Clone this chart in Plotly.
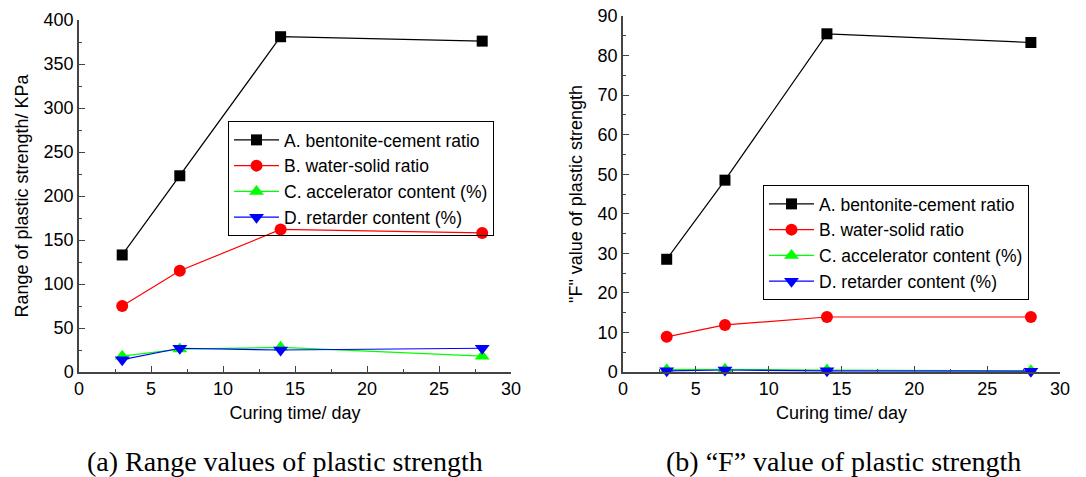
import plotly.graph_objects as go

days = [3, 7, 14, 28]
names = ["A. bentonite-cement ratio", "B. water-solid ratio",
         "C. accelerator content (%)", "D. retarder content (%)"]
range_A = [133, 223, 381, 376]
range_B = [75, 115, 162, 158]
range_C = [18, 26, 28, 18]
range_D = [14, 27, 25, 27]
f_A = [28.5, 48.5, 85.5, 83.3]
f_B = [8.9, 11.9, 13.9, 13.9]
f_C = [0.6, 0.7, 0.5, 0.3]
f_D = [0.3, 0.5, 0.3, 0.2]
x_ticks = [0, 5, 10, 15, 20, 25, 30]
caption_a = "(a) Range values of plastic strength"
caption_b = "(b) \u201cF\u201d value of plastic strength"

colors = ["#000000", "#ff0000", "#00ff00", "#0000ff"]
symbols = ["square", "circle", "triangle-up", "triangle-down"]
msizes = [11, 12, 13, 13]

W, H = 1086, 477
def fx(p): return p / W
def fy(p): return 1 - p / H

fig = go.Figure()
left = [range_A, range_B, range_C, range_D]
right = [f_A, f_B, f_C, f_D]
for i in range(4):
    fig.add_trace(go.Scatter(x=days, y=left[i], name=names[i], mode="lines+markers",
                             line=dict(color=colors[i], width=1.2),
                             marker=dict(symbol=symbols[i], size=msizes[i], color=colors[i]),
                             cliponaxis=False, xaxis="x", yaxis="y", legend="legend"))
for i in range(4):
    fig.add_trace(go.Scatter(x=days, y=right[i], name=names[i], mode="lines+markers",
                             line=dict(color=colors[i], width=1.2),
                             marker=dict(symbol=symbols[i], size=msizes[i], color=colors[i]),
                             cliponaxis=False, xaxis="x2", yaxis="y2", legend="legend2"))

font = dict(family="Liberation Sans, Arial, sans-serif", size=18, color="#000")
lfont = dict(family="Liberation Sans, Arial, sans-serif", size=17.5, color="#000")
axcommon = dict(showgrid=False, zeroline=False, showline=True, linecolor="#444", linewidth=1.5,
                ticks="inside", ticklen=6, tickcolor="#444", tickwidth=1.2,
                tickfont=font, mirror=False, automargin=False)

fig.update_layout(
    width=W, height=H, margin=dict(l=0, r=0, t=0, b=0),
    paper_bgcolor="white", plot_bgcolor="white", font=font,
    xaxis=dict(domain=[fx(79), fx(511)], range=[0, 30], tickvals=x_ticks,
               minor=dict(dtick=2.5, ticklen=3, ticks="inside", tickcolor="#444"),
               title=dict(text="Curing time/ day", font=font, standoff=8),
               anchor="y", **axcommon),
    yaxis=dict(domain=[fy(372), fy(20)], range=[0, 400], dtick=50,
               minor=dict(dtick=25, ticklen=3, ticks="inside", tickcolor="#444"),
               title=dict(text="Range of plastic strength/ KPa", font=font, standoff=10),
               anchor="x", **axcommon),
    xaxis2=dict(domain=[fx(623), fx(1060)], range=[0, 30], tickvals=x_ticks,
                minor=dict(dtick=2.5, ticklen=3, ticks="inside", tickcolor="#444"),
                title=dict(text="Curing time/ day", font=font, standoff=8),
                anchor="y2", **axcommon),
    yaxis2=dict(domain=[fy(372), fy(16)], range=[0, 90], dtick=10,
                minor=dict(dtick=5, ticklen=3, ticks="inside", tickcolor="#444"),
                title=dict(text="\"F\" value of plastic strength", font=font, standoff=10),
                anchor="x2", **axcommon),
    legend=dict(x=fx(228), y=fy(121), xanchor="left", yanchor="top",
                bordercolor="#000", borderwidth=1, bgcolor="rgba(255,255,255,0)",
                font=lfont, tracegroupgap=0, itemwidth=45),
    legend2=dict(x=fx(763), y=fy(185), xanchor="left", yanchor="top",
                 bordercolor="#000", borderwidth=1, bgcolor="rgba(255,255,255,0)",
                 font=lfont, tracegroupgap=0, itemwidth=45),
    showlegend=True,
)

capfont = dict(family="Liberation Serif, Times New Roman, serif", size=28, color="#000")
fig.add_annotation(text=caption_a, x=fx(285), y=fy(461), xref="paper", yref="paper",
                   showarrow=False, font=capfont, xanchor="center", yanchor="middle")
fig.add_annotation(text=caption_b, x=fx(843), y=fy(461), xref="paper", yref="paper",
                   showarrow=False, font=capfont, xanchor="center", yanchor="middle")

fig.write_html("out.html", config={"displayModeBar": False},
               post_script="document.body.style.margin='0';document.body.style.overflow='hidden';")
